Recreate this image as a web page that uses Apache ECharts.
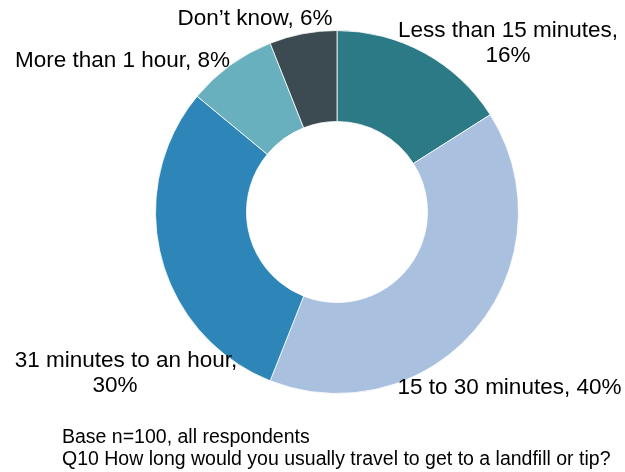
<!DOCTYPE html>
<html>
<head>
<meta charset="utf-8">
<script src="https://cdn.jsdelivr.net/npm/echarts@6/dist/echarts.min.js"></script>
<style>
html,body{margin:0;padding:0;background:#fff;}
#chart{width:625px;height:472px;}
</style>
</head>
<body>
<div id="chart"></div>
<script>
// Data
var categories = ['Less than 15 minutes', '15 to 30 minutes', '31 minutes to an hour', 'More than 1 hour', 'Don\u2019t know'];
var values = [16, 40, 30, 8, 6];
var labelTexts = ['Less than 15 minutes,\n16%', '15 to 30 minutes, 40%', '{a|31 minutes to an hour,}\n{b|30%}', 'More than 1 hour, 8%', 'Don\u2019t know, 6%'];
var footnotes = ['Base n=100, all respondents', 'Q10 How long would you usually travel to get to a landfill or tip?'];

// Styling / layout (not data)
var colors = ['#2D7A87', '#A9C0DE', '#2D86B7', '#69B0BE', '#3C4A52'];
var labelAnchors = [[508, 43.5], [509.5, 388], [126, 373.5], [122.5, 60.7], [255, 18.3]];

var chart = echarts.init(document.getElementById('chart'), null, {renderer: 'canvas'});
var font = '"Liberation Sans", Arial, sans-serif';

chart.setOption({
  animation: false,
  backgroundColor: '#ffffff',
  color: colors,
  series: [{
    type: 'pie',
    center: [337, 212],
    radius: [90.5, 181.5],
    startAngle: 90,
    clockwise: true,
    avoidLabelOverlap: false,
    itemStyle: {borderColor: '#ffffff', borderWidth: 0.8},
    emphasis: {disabled: true},
    label: {
      show: true,
      position: 'outside',
      color: '#000',
      fontFamily: font,
      fontSize: 22.5,
      lineHeight: 25,
      align: 'center',
      formatter: function (p) { return labelTexts[p.dataIndex]; },
      rich: {
        a: {fontFamily: font, fontSize: 22.5, lineHeight: 25, color: '#000'},
        b: {fontFamily: font, fontSize: 22.5, lineHeight: 25, color: '#000', padding: [0, 22, 0, 0]}
      }
    },
    labelLine: {show: false},
    labelLayout: function (params) {
      var a = labelAnchors[params.dataIndex];
      return {x: a[0], y: a[1], align: 'center', verticalAlign: 'middle'};
    },
    data: categories.map(function (c, i) { return {name: c, value: values[i]}; })
  }],
  graphic: footnotes.map(function (t, i) {
    return {
      type: 'text',
      left: 62,
      top: 427.5 + i * 22,
      style: {text: t, fontFamily: font, fontSize: 19.5, fill: '#000'}
    };
  })
});
</script>
</body>
</html>
